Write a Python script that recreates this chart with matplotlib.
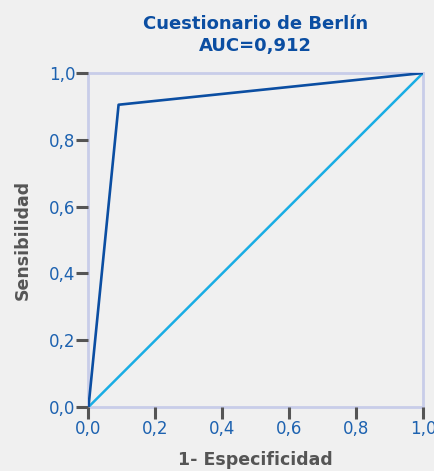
import matplotlib
matplotlib.use("Agg")
import matplotlib.pyplot as plt

# ROC curve points (1 - specificity, sensitivity)
fpr = [0.0, 0.09, 1.0]
tpr = [0.0, 0.905, 1.0]
ref = [0.0, 1.0]
ticks = [0.0, 0.2, 0.4, 0.6, 0.8, 1.0]
tick_labels = ["0,0", "0,2", "0,4", "0,6", "0,8", "1,0"]

bg = "#f0f0f0"
blue_dark = "#0b4ea2"
blue_light = "#19ade4"
label_blue = "#1d62b0"
grey = "#555555"

plt.rcParams["font.family"] = ["DejaVu Sans"]

fig = plt.figure(figsize=(4.35, 4.71), dpi=100, facecolor=bg)
ax = fig.add_axes([0.2034, 0.1359, 0.7690, 0.7091], facecolor=bg)

ax.plot(ref, ref, color=blue_light, linewidth=1.8, zorder=3)
ax.plot(fpr, tpr, color=blue_dark, linewidth=1.9, zorder=4)

ax.set_xlim(0, 1)
ax.set_ylim(0, 1)
ax.set_xticks(ticks)
ax.set_yticks(ticks)
ax.set_xticklabels(tick_labels)
ax.set_yticklabels(tick_labels)
ax.tick_params(axis="both", direction="out", length=8.5, width=2.2, color=grey,
               labelcolor=label_blue, labelsize=12, pad=1)
for sp in ax.spines.values():
    sp.set_color("#c8cde9")
    sp.set_linewidth(2.0)
    sp.set_zorder(1)

ax.set_xlabel("1- Especificidad", fontsize=12.5, fontweight="bold", color=grey, labelpad=9)
ax.set_ylabel("Sensibilidad", fontsize=12.5, fontweight="bold", color=grey, labelpad=12)
ax.set_title("Cuestionario de Berlín\nAUC=0,912", fontsize=13, fontweight="bold",
             color=blue_dark, pad=16, linespacing=1.3)

fig.savefig("out.png", dpi=100, facecolor=bg)
